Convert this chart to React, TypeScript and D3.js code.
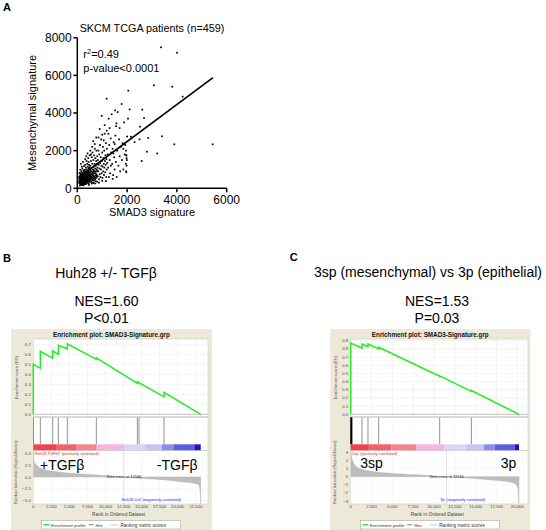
import React from "react";
import * as d3 from "d3";

const SANS = "'Liberation Sans', Arial, Helvetica, sans-serif";

// ---------------- Panel A data ----------------
const scatterPoints: [number, number][] = [
  [80,420],[95,610],[110,300],[120,520],[130,780],[140,240],[150,450],[155,650],[160,900],[170,350],[175,560],[185,720],[190,180],[195,430],[200,1050],[205,620],[210,300],[215,500],[220,820],[225,380],[230,690],[235,250],[240,540],[245,960],[250,430],[255,760],[260,320],[265,610],[270,1180],[275,480],[280,870],[285,230],[290,560],[295,700],[300,390],[120,980],[140,1300],[90,820],[180,1150],[230,1400],[260,880],[210,740],[170,640],[150,260],[100,150],[200,200],[250,160],[280,320],
  [305,980],[310,620],[315,450],[320,1250],[325,780],[330,300],[335,540],[340,900],[345,1100],[350,420],[355,680],[360,250],[365,820],[370,1450],[375,590],[380,380],[385,1000],[390,720],[395,480],[400,1300],[405,860],[410,600],[415,330],[420,1150],[425,760],[430,520],[435,950],[440,1600],[445,420],[450,680],[455,1050],[460,290],[465,840],[470,560],[475,1250],[480,700],[485,400],[490,930],[495,1750],[500,610],[320,1550],[360,1700],[410,1850],[450,1400],[480,1100],[340,700],[390,880],[430,300],[470,180],[380,550],
  [510,820],[515,1200],[520,450],[530,980],[540,640],[545,1450],[550,330],[560,760],[565,1100],[570,520],[580,1650],[585,880],[590,400],[600,1300],[605,700],[610,1900],[620,560],[625,1000],[630,280],[640,820],[645,1500],[650,640],[660,1150],[665,420],[670,950],[680,1750],[685,600],[690,1300],[700,800],[705,2100],[710,480],[720,1050],[725,1600],[730,700],[740,380],[745,1200],[750,900],[760,1450],[765,560],[770,2000],[780,1000],[785,700],[790,1300],[800,1700],[550,1800],[600,2200],[640,2500],[700,2350],[760,2700],[520,2000],[580,250],[660,300],[720,260],[800,350],
  [810,1100],[820,640],[830,1500],[840,900],[850,2000],[860,1250],[870,480],[880,1800],[890,1050],[900,750],[910,2300],[920,1350],[930,600],[940,1650],[950,1000],[960,2600],[970,1200],[980,800],[990,1450],[1000,1900],[1010,550],[1020,1150],[1030,2200],[1040,900],[1050,1600],[1060,1300],[1070,700],[1080,2000],[1090,1100],[1100,2900],[1110,1450],[1120,850],[1130,1750],[1140,1250],[1150,2400],[1160,600],[1170,1550],[1180,1000],[1190,2100],[1200,1350],[850,2700],[900,3150],[980,3850],[1000,2850],[1060,2550],[1100,3350],[1180,3060],[1180,4760],[870,300],[1000,400],[1150,380],
  [1220,1800],[1240,1100],[1260,3700],[1280,2300],[1300,1500],[1320,800],[1340,2650],[1360,1900],[1380,3930],[1400,1300],[1420,2100],[1440,700],[1460,2450],[1480,1650],[1500,1000],[1520,4140],[1530,2800],[1550,1400],[1560,3300],[1580,600],[1600,2000],[1250,2900],[1300,3200],[1350,1200],[1450,1850],[1500,2350],[1570,3450],[1270,600],[1420,500],
  [1620,4050],[1650,1200],[1680,2600],[1700,1700],[1720,900],[1750,2200],[1780,4478],[1800,1500],[1820,2400],[1850,1000],[1880,3500],[1900,1800],[1920,2300],[1950,1300],[1960,1750],[1970,850],[2000,2750],[2036,3700],[2048,5186],[2103,4190],[2152,2741],[1980,1600],[1850,2100],[1700,3200],[1960,900],[1980,1200],[1990,1500],[1975,1750],[1955,2000],
  [2300,2450],[2500,2600],[2518,3272],[2586,1450],[2610,4177],[2680,3730],[2797,1944],[2851,2674],[3080,5471],[3213,1850],[3361,7490],[3401,2762],[3815,5397],[3896,2336],[4004,7203],[4232,4870],[5437,2336],
  [117,352],[128,603],[133,418],[147,724],[163,297],[178,483],[186,377],[193,822],[207,518],[213,262],[226,657],[238,441],[243,338],[257,563],[262,478],[277,702],[283,398],[297,884],[302,297],[318,644],[323,468],[337,382],[343,818],[357,537],[362,362],[377,703],[383,457],[398,598],[402,403],[417,748],[423,538],[437,653],[443,897],[458,477],[463,622],[478,383],[482,757],[497,522],[508,637],[523,703],[538,497],[553,903],[577,617],[592,783],[618,477],[633,703],[658,897],[672,523],[697,617],[713,883],[738,557],[752,763],[778,637],[793,903],
  [132,203],[158,168],[212,423],[242,697],[303,218],[352,303],[398,652],[452,247],[503,418],[548,563],
  [68,330],[72,560],[88,260],[104,480],[112,690],[142,560],[168,430],[188,290],[218,590],[248,250],[268,390],[288,640],[308,520],[328,880],[348,240],[368,560],[388,320],[408,460],[428,870],[448,560],
];
const regressionLine: [number, number][] = [[60, 573], [5450, 5882]];
const xTicksA = [0, 2000, 4000, 6000];
const yTicksA = [0, 2000, 4000, 6000, 8000];

// ---------------- Panel B data ----------------
const esProfileB: [number, number][] = [
  [0,0],[0,0.50],[975,0.46],[975,0.63],[2685,0.56],[2685,0.635],[3470,0.60],[3470,0.69],
  [4715,0.655],[4715,0.705],[8735,0.55],[8735,0.565],[14415,0.31],[14415,0.325],
  [18110,0.175],[18110,0.22],[23190,0],
];
const hitsB = [30, 975, 2685, 3470, 4715, 8735, 14415, 14645, 18110];
const metricB: [number, number][] = [
  [0,5.6],[60,4.0],[150,3.2],[400,2.6],[1000,1.9],[2000,1.4],[3500,1.05],[6000,0.7],[8200,0.5],
  [10500,0.25],[12546,0],[15000,-0.3],[17900,-0.57],[20800,-1.05],[22500,-1.4],[22900,-1.7],[23100,-2.8],[23190,-5.6],
];
const barStopsB = [0, 3140, 6010, 8780, 12570, 15480, 17790, 19400, 22310, 23190];
const esTicksB = [0, 0.1, 0.2, 0.3, 0.4, 0.5, 0.6, 0.7];
const metricTicksB = [-5, -2.5, 0, 2.5, 5];
const rankTicksB = [0, 2500, 5000, 7500, 10000, 12500, 15000, 17500, 20000, 22500];

// ---------------- Panel C data ----------------
const esProfileC: [number, number][] = [
  [0,0],[0,0.87],[1356,0.81],[1356,0.86],[2076,0.826],[2076,0.86],[3357,0.80],[3357,0.82],
  [10680,0.465],[10680,0.47],[14480,0.28],[14480,0.29],[20200,0],
];
const hitsC = [20, 50, 80, 110, 140, 1356, 2076, 3357, 10680, 14480];
const metricC: [number, number][] = [
  [0,3.3],[80,2.6],[280,1.85],[880,1.1],[2280,0.7],[5500,0.37],[8500,0.2],[11510,0],
  [14480,-0.2],[17280,-0.45],[19300,-0.7],[19900,-1.0],[20100,-1.6],[20200,-3.3],
];
const barStopsC = [0, 2076, 4870, 7870, 11280, 13870, 16000, 17280, 19680, 20200];
const esTicksC = [0, 0.1, 0.2, 0.3, 0.4, 0.5, 0.6, 0.7, 0.8, 0.9];
const metricTicksC = [-3, -2, -1, 0, 1, 2, 3];
const rankTicksC = [0, 2500, 5000, 7500, 10000, 12500, 15000, 17500, 20000];

const barColors = ["#f2404c", "#f4606a", "#f7848c", "#f7b6dc", "#d6d6f6", "#c6c6f2", "#8c8cee", "#5c5ce0", "#1a14c0"];

// ---------------- Panel A ----------------
function ScatterPanel() {
  const x = d3.scaleLinear().domain([0, 6000]).range([77.3, 226.7]);
  const y = d3.scaleLinear().domain([0, 8000]).range([188.3, 37.7]);
  const line = d3.line<[number, number]>().x(d => x(d[0])).y(d => y(d[1]));
  return (
    <g fontFamily={SANS}>
      <text x={3} y={11} fontSize={11} fontWeight="bold">A</text>
      <text x={152} y={31.5} fontSize={10.8} textAnchor="middle">SKCM TCGA patients (n=459)</text>
      {scatterPoints.map((p, i) => (
        <rect key={i} x={x(p[0]) - 0.85} y={y(p[1]) - 0.85} width={1.7} height={1.7} fill="#000" />
      ))}
      <path d={line(regressionLine) || ""} stroke="#000" strokeWidth={1.6} fill="none" />
      <line x1={x(0)} x2={x(6000)} y1={y(0)} y2={y(0)} stroke="#000" strokeWidth={1.5} />
      <line x1={x(0)} x2={x(0)} y1={y(0)} y2={y(8000)} stroke="#000" strokeWidth={1.5} />
      {xTicksA.map(t => (
        <g key={t}>
          <line x1={x(t)} x2={x(t)} y1={y(0)} y2={y(0) + 4} stroke="#000" strokeWidth={1.5} />
          <text x={x(t)} y={204} fontSize={12} textAnchor="middle">{t}</text>
        </g>
      ))}
      {yTicksA.map(t => (
        <g key={t}>
          <line x1={x(0) - 4} x2={x(0)} y1={y(t)} y2={y(t)} stroke="#000" strokeWidth={1.5} />
          <text x={71.7} y={y(t)} dy="0.36em" fontSize={12} textAnchor="end">{t}</text>
        </g>
      ))}
      <text x={152} y={216} fontSize={11} textAnchor="middle">SMAD3 signature</text>
      <text transform={`translate(36,113) rotate(-90)`} fontSize={11} textAnchor="middle">Mesenchymal signature</text>
      <text x={83.3} y={58.3} fontSize={11}>r<tspan dy={-4} fontSize={7.5}>2</tspan><tspan dy={4}>=0.49</tspan></text>
      <text x={83.3} y={71.7} fontSize={11}>p-value&lt;0.0001</text>
    </g>
  );
}

// ---------------- GSEA panel ----------------
type GseaProps = {
  box: [number, number, number, number];
  plotL: number; plotR: number; rankMax: number;
  esMax: number; esMaxY: number; esTicks: number[];
  metricMax: number; metricMaxY: number; metricMinY: number; metricTicks: number[]; metricFmt: string;
  rankTicks: number[];
  es: [number, number][]; hits: number[]; metric: [number, number][]; barStops: number[];
  zeroCross: number; posLabel: string; negLabel: string; negLabelX: number;
  leftTag: string; leftTagX: number; rightTag: string; rightTagX: number; tagY: number;
  clusterRanks: number;
};

function GseaPanel(p: GseaProps) {
  const [bx0, by0, bx1, by1] = p.box;
  const esTop = 339, esBot = 416.5, hitTop = 417.5, barTop = 444.3, barBot = 450.7, mTop = 450.7, mBot = 504;
  const x = d3.scaleLinear().domain([0, p.rankMax]).range([p.plotL, p.plotR]);
  const yES = d3.scaleLinear().domain([0, p.esMax]).range([414.3, p.esMaxY]);
  const yM = d3.scaleLinear().domain([-p.metricMax, p.metricMax]).range([p.metricMinY, p.metricMaxY]);
  const esLine = d3.line<[number, number]>().x(d => x(d[0])).y(d => yES(d[1]));
  const mArea = d3.area<[number, number]>().x(d => x(d[0])).y0(yM(0)).y1(d => yM(d[1])).curve(d3.curveMonotoneX);
  const fmtRank = d3.format(",");
  const fmtES = d3.format(".1f");
  const fmtM = d3.format(p.metricFmt);
  const cx = (bx0 + bx1) / 2;
  const clipId = "clip" + Math.round(bx0);
  const small = 4.3;
  const grid = "#e6e6e6";
  return (
    <g fontFamily={SANS}>
      <rect x={bx0} y={by0} width={bx1 - bx0} height={by1 - by0} fill="#ece9d8" />
      <text x={cx} y={337.3} fontSize={6.3} fontWeight="bold" textAnchor="middle" fill="#111">Enrichment plot: SMAD3-Signature.grp</text>
      {/* ES panel */}
      <rect x={p.plotL} y={esTop} width={p.plotR - p.plotL} height={esBot - esTop} fill="#fff" stroke="#c0c0c0" strokeWidth={0.5} />
      {p.rankTicks.map(t => <line key={"ge" + t} x1={x(t)} x2={x(t)} y1={esTop} y2={esBot} stroke={grid} strokeWidth={0.5} />)}
      {p.esTicks.map(t => (
        <g key={"es" + t}>
          <line x1={p.plotL} x2={p.plotR} y1={yES(t)} y2={yES(t)} stroke={t === 0 ? "#b0b0b0" : grid} strokeWidth={t === 0 ? 0.8 : 0.5} />
          <text x={p.plotL - 2.5} y={yES(t)} dy="0.35em" fontSize={small} textAnchor="end" fill="#444">{fmtES(t)}</text>
        </g>
      ))}
      <path d={esLine(p.es) || ""} stroke="#22ee22" strokeWidth={1.5} fill="none" />
      <text transform={`translate(${bx0 + 6.5},${(esTop + esBot) / 2}) rotate(-90)`} fontSize={small} textAnchor="middle" fill="#555">Enrichment score (ES)</text>
      {/* Hits panel */}
      <rect x={p.plotL} y={hitTop} width={p.plotR - p.plotL} height={mTop - hitTop} fill="#fff" stroke="#c0c0c0" strokeWidth={0.5} />
      {p.rankTicks.map(t => <line key={"gh" + t} x1={x(t)} x2={x(t)} y1={hitTop} y2={barTop} stroke="#f0f0f0" strokeWidth={0.5} />)}
      {p.hits.map((h, i) => (
        <line key={"h" + i} x1={x(h)} x2={x(h)} y1={hitTop} y2={barTop} stroke={i < p.clusterRanks ? "#000" : "#777"} strokeWidth={i < p.clusterRanks ? 0.9 : 0.8} />
      ))}
      {barColors.map((c, i) => (
        <rect key={"b" + i} x={x(p.barStops[i])} y={barTop} width={x(p.barStops[i + 1]) - x(p.barStops[i])} height={barBot - barTop} fill={c} />
      ))}
      {/* Metric panel */}
      <rect x={p.plotL} y={mTop} width={p.plotR - p.plotL} height={mBot - mTop} fill="#fff" stroke="#c0c0c0" strokeWidth={0.5} />
      <clipPath id={clipId}><rect x={p.plotL} y={mTop} width={p.plotR - p.plotL} height={mBot - mTop} /></clipPath>
      {p.rankTicks.map(t => <line key={"gm" + t} x1={x(t)} x2={x(t)} y1={mTop} y2={mBot} stroke="#f0f0f0" strokeWidth={0.5} />)}
      {p.metricTicks.map(t => (
        <g key={"m" + t}>
          <line x1={p.plotL} x2={p.plotR} y1={yM(t)} y2={yM(t)} stroke="#f0f0f0" strokeWidth={0.5} />
          <text x={p.plotL - 2.5} y={yM(t)} dy="0.35em" fontSize={small} textAnchor="end" fill="#444">{fmtM(t)}</text>
        </g>
      ))}
      <path d={mArea(p.metric) || ""} fill="#bdbdbd" stroke="#b0b0b0" strokeWidth={0.4} clipPath={`url(#${clipId})`} />
      <line x1={x(p.zeroCross)} x2={x(p.zeroCross)} y1={mTop} y2={mBot} stroke="#999" strokeWidth={0.5} strokeDasharray="1,1" />
      <text x={x(p.zeroCross)} y={478.3} fontSize={3.9} textAnchor="middle" fill="#111">Zero cross at {p.zeroCross}</text>
      <text x={p.plotL + 0.8} y={455} fontSize={3.9} fill="#ee2222">{p.posLabel}</text>
      <text x={p.negLabelX} y={501.2} fontSize={3.9} fill="#2222ee">{p.negLabel}</text>
      <text transform={`translate(${bx0 + 6},${(mTop + mBot) / 2 - 5}) rotate(-90)`} fontSize={small} textAnchor="middle" fill="#555">Ranked list metric (Signal2Noise)</text>
      {p.rankTicks.map(t => (
        <text key={"xt" + t} x={x(t)} y={507.8} fontSize={small} textAnchor="middle" fill="#444">{fmtRank(t)}</text>
      ))}
      <text x={(p.plotL + p.plotR) / 2 - 2} y={515.5} fontSize={4.8} textAnchor="middle" fill="#444">Rank in Ordered Dataset</text>
      {/* big labels */}
      <text x={p.leftTagX} y={p.tagY} fontSize={14}>{p.leftTag}</text>
      <text x={p.rightTagX} y={p.tagY} fontSize={14} textAnchor="end">{p.rightTag}</text>
      {/* legend */}
      <g transform={`translate(${cx - 70},520.5)`}>
        <rect x={0} y={0} width={139} height={8.5} fill="#fff" stroke="#9a9a9a" strokeWidth={0.5} />
        <line x1={2} x2={8} y1={4.3} y2={4.3} stroke="#22ee22" strokeWidth={1.4} />
        <text x={9.5} y={6} fontSize={4.3} fill="#333">Enrichment profile</text>
        <line x1={47} x2={52} y1={4.3} y2={4.3} stroke="#777" strokeWidth={0.9} />
        <text x={54} y={6} fontSize={4.3} fill="#333">Hits</text>
        <line x1={69} x2={77} y1={4.3} y2={4.3} stroke="#ddd" strokeWidth={1.4} />
        <text x={79} y={6} fontSize={4.6} fill="#333">Ranking metric scores</text>
      </g>
    </g>
  );
}

export default function App() {
  return (
    <svg width={546} height={530} viewBox="0 0 546 530" style={{ position: "absolute", left: 0, top: 0, background: "#fff" }}>
      <rect x={0} y={0} width={546} height={530} fill="#fff" />
      <ScatterPanel />
      <g fontFamily={SANS}>
        <text x={3} y={261.7} fontSize={11} fontWeight="bold">B</text>
        <text x={106} y={278.3} fontSize={14} textAnchor="middle">Huh28 +/- TGFβ</text>
        <text x={106.5} y={306} fontSize={14} textAnchor="middle">NES=1.60</text>
        <text x={106.5} y={322.7} fontSize={14} textAnchor="middle">P&lt;0.01</text>
        <text x={289.7} y={260.7} fontSize={11} fontWeight="bold">C</text>
        <text x={428} y={277.3} fontSize={14} textAnchor="middle">3sp (mesenchymal) vs 3p (epithelial)</text>
        <text x={437} y={306} fontSize={14} textAnchor="middle">NES=1.53</text>
        <text x={437} y={322.7} fontSize={14} textAnchor="middle">P=0.03</text>
      </g>
      <GseaPanel
        box={[11, 329, 212, 530]} plotL={33.3} plotR={208} rankMax={24200}
        esMax={0.7} esMaxY={344.3} esTicks={esTicksB}
        metricMax={5} metricMaxY={453.3} metricMinY={500.7} metricTicks={metricTicksB} metricFmt=".1f"
        rankTicks={rankTicksB} es={esProfileB} hits={hitsB} metric={metricB} barStops={barStopsB}
        zeroCross={12546} posLabel="'Huh28-TGFbT' (positively correlated)" negLabel="'Huh28-Ctrl' (negatively correlated)" negLabelX={121}
        leftTag="+TGFβ" leftTagX={40} rightTag="-TGFβ" rightTagX={197.5} tagY={470}
        clusterRanks={0}
      />
      <GseaPanel
        box={[330.3, 329, 530.3, 530]} plotL={350.7} plotR={528} rankMax={21280}
        esMax={0.9} esMaxY={340.7} esTicks={esTicksC}
        metricMax={3} metricMaxY={452.3} metricMinY={501} metricTicks={metricTicksC} metricFmt="d"
        rankTicks={rankTicksC} es={esProfileC} hits={hitsC} metric={metricC} barStops={barStopsC}
        zeroCross={11510} posLabel="'3sp' (positively correlated)" negLabel="'3p' (negatively correlated)" negLabelX={439.7}
        leftTag="3sp" leftTagX={360.3} rightTag="3p" rightTagX={516.3} tagY={468}
        clusterRanks={5}
      />
    </svg>
  );
}
